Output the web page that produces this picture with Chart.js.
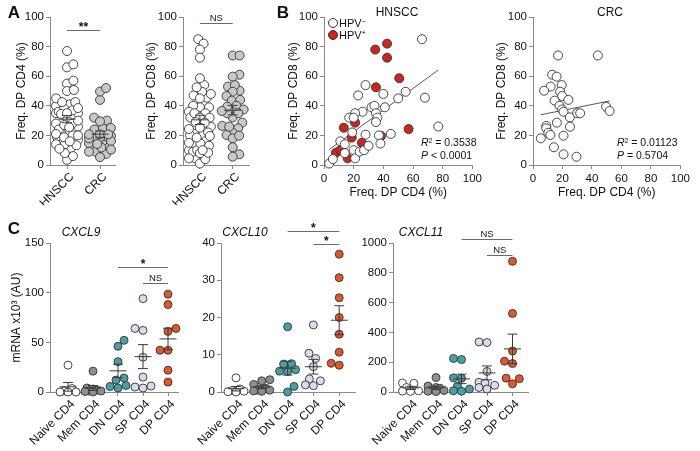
<!DOCTYPE html>
<html>
<head>
<meta charset="utf-8">
<script src="https://cdn.jsdelivr.net/npm/chart.js@4"></script>
<style>
body { margin: 0; background: #fff; }
#page { position: relative; width: 700px; height: 451px; overflow: hidden; font-family: 'Liberation Sans', Arial, sans-serif; color: #111; }
canvas { position: absolute; }
.t { position: absolute; white-space: nowrap; line-height: 1; transform: translate(-50%, -50%); }
.l { position: absolute; white-space: nowrap; line-height: 1; transform: translate(0, -50%); }
.dot { position: absolute; width: 8px; height: 8px; border: 1px solid #333; border-radius: 50%; }
sup { font-size: 65%; vertical-align: 0.45em; line-height: 0; }
</style>
</head>
<body>
<div id="page">
  <canvas id="aCD4"></canvas>
  <canvas id="aCD8"></canvas>
  <canvas id="bHnscc"></canvas>
  <canvas id="bCrc"></canvas>
  <canvas id="c9"></canvas>
  <canvas id="c10"></canvas>
  <canvas id="c11"></canvas>

  <div class="t" style="left:14px;top:12px;font-weight:bold;font-size:17px">A</div>
  <div class="t" style="left:283px;top:12px;font-weight:bold;font-size:17px">B</div>
  <div class="t" style="left:14px;top:228px;font-weight:bold;font-size:17px">C</div>

  <div class="t" style="left:397px;top:12px;font-size:12px">HNSCC</div>
  <div class="t" style="left:610px;top:12px;font-size:12px">CRC</div>
  <div class="t" style="left:81px;top:232px;font-size:12px;font-style:italic">CXCL9</div>
  <div class="t" style="left:245px;top:232px;font-size:12px;font-style:italic">CXCL10</div>
  <div class="t" style="left:421px;top:232px;font-size:12px;font-style:italic">CXCL11</div>

  <div class="dot" style="left:328px;top:18px;background:#fff"></div>
  <div class="l" style="left:339px;top:23px;font-size:11px">HPV<sup>–</sup></div>
  <div class="dot" style="left:328px;top:30px;background:#c9261c"></div>
  <div class="l" style="left:339px;top:35px;font-size:11px">HPV<sup>+</sup></div>

  <div class="l" id="hR" style="left:421px;top:142px;font-size:10.5px"></div>
  <div class="l" id="hP" style="left:421px;top:155px;font-size:10.5px"></div>
  <div class="l" id="cR" style="left:617px;top:142px;font-size:10.5px"></div>
  <div class="l" id="cP" style="left:617px;top:155px;font-size:10.5px"></div>
</div>

<script>
// categories
const cohorts = ['HNSCC', 'CRC'];
const subsets = ['Naive CD4', 'Mem CD4', 'DN CD4', 'SP CD4', 'DP CD4'];

// HNSCC patients, freq. DP CD4 / DP CD8 (%)
const hpvNegCD4 = [66, 68, 77, 28, 23, 40, 55, 50, 41, 32, 34, 26, 21, 17, 20, 35, 36, 35, 28, 45, 37, 19, 11, 14, 20, 21, 24, 27, 30, 38, 3.5, 6, 14];
const hpvNegCD8 = [85, 45.5, 26, 54, 47, 48, 49.5, 45, 39, 39, 40, 36, 35, 32, 32, 35, 32, 29, 20.5, 21, 20, 22, 16, 14, 10, 4.5, 9, 10, 13, 14.5, 1, 4, 8];
const hpvPosCD4 = [42.5, 34.5, 42.5, 50.7, 35, 57, 21, 13.3, 18.7, 38.5, 25.5, 8, 11, 16];
const hpvPosCD8 = [82, 78, 72.5, 58.6, 52.5, 24.3, 28.6, 25.2, 18.5, 19.6, 15, 8.3, 10, 4.5];

// CRC patients
const crcCD4 = [17, 44, 13, 16, 12, 7.5, 19.5, 18.4, 19.8, 14.7, 24, 18, 19.7, 20.7, 25, 30, 32, 49.6, 52, 16.2, 9, 9, 10.4, 11.8, 25.1, 5.3, 20.7, 14.2, 20.7, 29.5];
const crcCD8 = [74, 74, 61, 59.7, 53, 50.2, 54, 49.5, 46.6, 43.5, 44, 40, 37.5, 36, 32.2, 35, 35, 39.4, 36.5, 28.6, 26.4, 24.8, 21.8, 20.3, 25.9, 18, 19.8, 12, 7.2, 5.6];

// correlation stats as printed
const hnsccStats = ['0.3538', '< 0.0001'];
const crcStats = ['0.01123', '= 0.5704'];

// mRNA x10^3 (AU) per subset
const cxcl9 = [
  [27, 3.5, 1, 0, 0, 0],
  [21, 4, 3, 2, 1, 1, 0.5, 0],
  [52, 46, 30.5, 14, 12, 6.5, 5.5, 4],
  [94, 64, 62, 35, 15, 6, 5, 4],
  [98.5, 88, 64, 61, 42, 42, 22, 10]
];
const cxcl10 = [
  [3.8, 0.8, 0.4, 0.2, 0.1, 0],
  [3.3, 3, 2, 1, 0.5, 0.5, 0.3, 0.2],
  [17.5, 7.6, 7.5, 6, 5.6, 5.5, 1.5, 0],
  [18, 10.4, 9, 6.8, 3.5, 3, 1.9, 1.7],
  [37, 30.7, 25.3, 20, 15.5, 10.7, 7.2, 7.7]
];
const cxcl11 = [
  [60, 58, 30, 8, 6, 4],
  [97, 40, 30, 25, 15, 10, 5, 3],
  [225, 218, 95, 92, 40, 20, 8, 5],
  [336, 332, 138, 65, 60, 45, 30, 20],
  [877, 527, 275, 207, 191, 93, 89, 55]
];

// tick values
const pctTicks = [0, 20, 40, 60, 80, 100];
const cxcl9Ticks = [0, 50, 100, 150];
const cxcl10Ticks = [0, 10, 20, 30, 40];
const cxcl11Ticks = [0, 200, 400, 600, 800, 1000];

const cohortFills = ['#ffffff', '#c8c8c8'];
const subsetFills = ['#ffffff', '#8e8e8e', '#4b9ea3', '#d9dde9', '#e0572b'];
const hpvFills = ['#ffffff', '#c9261c'];
const axisGray = '#8a8a8a';

Chart.defaults.font.family = "'Liberation Sans', Arial, sans-serif";
Chart.defaults.color = '#111';

document.getElementById('hR').innerHTML = '<i>R</i><sup>2</sup> = ' + hnsccStats[0];
document.getElementById('hP').innerHTML = '<i>P</i> ' + hnsccStats[1];
document.getElementById('cR').innerHTML = '<i>R</i><sup>2</sup> = ' + crcStats[0];
document.getElementById('cP').innerHTML = '<i>P</i> ' + crcStats[1];

function place(id, rect, area) {
  const c = document.getElementById(id);
  c.width = rect.w; c.height = rect.h;
  c.style.left = rect.x + 'px'; c.style.top = rect.y + 'px';
  return {
    canvas: c,
    padding: { left: 0, top: area.top - rect.y, right: rect.x + rect.w - area.right, bottom: 0 },
    yWidth: area.left - rect.x,
    xHeight: rect.y + rect.h - area.bottom
  };
}

function fixedTicks(values) {
  return scale => { scale.ticks = values.map(v => ({ value: v })); };
}

function axisStyle(extra) {
  return Object.assign({
    grid: { display: true, drawOnChartArea: false, drawTicks: true, tickLength: 4, color: axisGray },
    border: { display: true, color: axisGray, width: 1 }
  }, extra);
}

function meanSem(v) {
  const n = v.length;
  const m = v.reduce((a, b) => a + b, 0) / n;
  const sd = Math.sqrt(v.reduce((a, b) => a + (b - m) ** 2, 0) / (n - 1));
  return { mean: m, sem: sd / Math.sqrt(n) };
}

// beeswarm with a width cap, offsets in px; overlaps allowed once the column is full
function swarm(vals, pxY, d, maxW) {
  const idx = vals.map((v, i) => i).sort((a, b) => vals[a] - vals[b]);
  const placed = [], off = [];
  idx.forEach(i => {
    const y = vals[i] * pxY;
    const near = placed.filter(p => Math.abs(p.y - y) < d);
    let cands = [0];
    near.forEach(p => {
      const dx = Math.sqrt(d * d - (p.y - y) ** 2);
      cands.push(p.x + dx, p.x - dx);
    });
    cands = cands.filter(c => Math.abs(c) <= maxW + 0.01);
    cands.sort((a, b) => Math.abs(a) - Math.abs(b) || b - a);
    let x = cands.find(c => near.every(p => (c - p.x) ** 2 + (y - p.y) ** 2 >= d * d - 0.01));
    if (x === undefined) {
      let best = -1;
      for (let c = -maxW; c <= maxW + 0.01; c += maxW / 4) {
        const m = Math.min(...near.map(p => (c - p.x) ** 2 + (y - p.y) ** 2));
        if (m > best) { best = m; x = c; }
      }
    }
    placed.push({ x, y });
    off[i] = x;
  });
  return off;
}

function markers(bars, sig) {
  return {
    id: 'markers',
    afterDatasetsDraw(chart) {
      const { ctx } = chart;
      const x = chart.scales.x, y = chart.scales.y;
      ctx.save();
      ctx.lineWidth = 1;
      ctx.strokeStyle = '#3a3a3a';
      bars.forEach(b => {
        const cx = x.getPixelForValue(b.i);
        const ym = y.getPixelForValue(b.mean);
        const yt = y.getPixelForValue(b.mean + b.sem);
        const yb = y.getPixelForValue(b.mean - b.sem);
        ctx.beginPath();
        ctx.moveTo(cx - 8.5, ym); ctx.lineTo(cx + 8.5, ym);
        ctx.moveTo(cx, yt); ctx.lineTo(cx, yb);
        ctx.moveTo(cx - 5, yt); ctx.lineTo(cx + 5, yt);
        ctx.moveTo(cx - 5, yb); ctx.lineTo(cx + 5, yb);
        ctx.stroke();
      });
      ctx.strokeStyle = '#6a6a6a';
      ctx.fillStyle = '#111';
      ctx.textAlign = 'center';
      ctx.textBaseline = 'alphabetic';
      sig.forEach(s => {
        const x0 = x.getPixelForValue(s.from), x1 = x.getPixelForValue(s.to);
        const yy = Math.round(y.getPixelForValue(s.y)) + 0.5;
        ctx.beginPath(); ctx.moveTo(x0, yy); ctx.lineTo(x1, yy); ctx.stroke();
        const ns = s.label === 'NS';
        ctx.font = (ns ? '9.5px ' : 'bold 12px ') + Chart.defaults.font.family;
        ctx.fillText(s.label, (x0 + x1) / 2, yy - (ns ? 3 : 0));
      });
      ctx.restore();
    }
  };
}

function dotPlot(id, rect, area, cats, groups, fills, yTicks, yTitle, sig, opt) {
  const L = place(id, rect, area);
  const yMin = yTicks[0], yMax = yTicks[yTicks.length - 1];
  const pxY = (area.bottom - area.top) / (yMax - yMin);
  const datasets = groups.map((vals, g) => {
    const off = swarm(vals, pxY, opt.gap, opt.maxW);
    return {
      data: vals.map((v, k) => ({ x: g + off[k] / area.step, y: v })),
      backgroundColor: fills[g], borderColor: '#333', borderWidth: 0.9,
      pointRadius: opt.r, pointHoverRadius: opt.r, clip: false
    };
  });
  const bars = groups.map((v, g) => Object.assign({ i: g }, meanSem(v)));
  new Chart(L.canvas, {
    type: 'scatter',
    data: { datasets },
    plugins: [markers(bars, sig)],
    options: {
      responsive: false, animation: false, events: [],
      layout: { padding: L.padding },
      plugins: { legend: { display: false }, tooltip: { enabled: false } },
      scales: {
        x: axisStyle({
          type: 'linear',
          min: (area.left - area.cat0) / area.step,
          max: (area.right - area.cat0) / area.step,
          afterBuildTicks: fixedTicks(cats.map((c, i) => i)),
          afterFit: s => { s.height = L.xHeight; },
          ticks: { autoSkip: false, minRotation: 45, maxRotation: 45, padding: 1, labelOffset: 5,
                   font: { size: opt.xFont }, callback: v => cats[v] }
        }),
        y: axisStyle({
          min: yMin, max: yMax,
          afterBuildTicks: fixedTicks(yTicks),
          afterFit: s => { s.width = L.yWidth; },
          ticks: { padding: 2, font: { size: 11.5 }, callback: v => String(v) },
          title: { display: !!yTitle, text: yTitle || '', font: { size: 12 }, padding: { top: opt.titlePad || 0, bottom: 0 } }
        })
      }
    }
  });
}

function regression(xs, ys) {
  const n = xs.length;
  const mx = xs.reduce((a, b) => a + b, 0) / n, my = ys.reduce((a, b) => a + b, 0) / n;
  let sxy = 0, sxx = 0;
  xs.forEach((x, i) => { sxy += (x - mx) * (ys[i] - my); sxx += (x - mx) ** 2; });
  const b = sxy / sxx, a = my - b * mx;
  const x0 = Math.min(...xs), x1 = Math.max(...xs);
  return [{ x: x0, y: a + b * x0 }, { x: x1, y: a + b * x1 }];
}

function scatterPlot(id, rect, area, series, titlePad) {
  const L = place(id, rect, area);
  const allX = [].concat(...series.map(s => s.x));
  const allY = [].concat(...series.map(s => s.y));
  const datasets = series.map(s => ({
    data: s.x.map((v, k) => ({ x: v, y: s.y[k] })),
    backgroundColor: s.fill, borderColor: '#333', borderWidth: 0.9,
    pointRadius: 4.5, pointHoverRadius: 4.5, clip: false, order: 0
  }));
  datasets.push({
    type: 'line', data: regression(allX, allY), borderColor: '#555', borderWidth: 1,
    pointRadius: 0, fill: false, order: 1
  });
  new Chart(L.canvas, {
    type: 'scatter',
    data: { datasets },
    options: {
      responsive: false, animation: false, events: [],
      layout: { padding: L.padding },
      plugins: { legend: { display: false }, tooltip: { enabled: false } },
      scales: {
        x: axisStyle({
          type: 'linear', min: 0, max: 100,
          afterBuildTicks: fixedTicks(pctTicks),
          afterFit: s => { s.height = L.xHeight; },
          ticks: { minRotation: 0, maxRotation: 0, padding: 3, font: { size: 11.5 } },
          title: { display: true, text: 'Freq. DP CD4 (%)', font: { size: 12 }, padding: { top: 0, bottom: 0 } }
        }),
        y: axisStyle({
          min: 0, max: 100,
          afterBuildTicks: fixedTicks(pctTicks),
          afterFit: s => { s.width = L.yWidth; },
          ticks: { padding: 2, font: { size: 11.5 } },
          title: { display: true, text: 'Freq. DP CD8 (%)', font: { size: 12 }, padding: { top: titlePad, bottom: 0 } }
        })
      }
    }
  });
}

const hnsccCD4 = hpvNegCD4.concat(hpvPosCD4);
const hnsccCD8 = hpvNegCD8.concat(hpvPosCD8);

// panel A
dotPlot('aCD4', { x: 0, y: 0, w: 125, h: 205 },
  { left: 50, right: 115, top: 17, bottom: 165, cat0: 67, step: 33 },
  cohorts, [hnsccCD4, crcCD4], cohortFills, pctTicks, 'Freq. DP CD4 (%)',
  [{ from: 0, to: 1, y: 91, label: '**' }], { r: 4.5, gap: 7, maxW: 11, xFont: 12, titlePad: 14 });
dotPlot('aCD8', { x: 130, y: 0, w: 125, h: 205 },
  { left: 183, right: 250, top: 17, bottom: 165, cat0: 200, step: 33 },
  cohorts, [hnsccCD8, crcCD8], cohortFills, pctTicks, 'Freq. DP CD8 (%)',
  [{ from: 0, to: 1, y: 96, label: 'NS' }], { r: 4.5, gap: 7, maxW: 11, xFont: 12, titlePad: 14.8 });

// panel B
scatterPlot('bHnscc', { x: 285, y: 0, w: 200, h: 200 },
  { left: 324, right: 474, top: 17, bottom: 165 },
  [{ x: hpvNegCD4, y: hpvNegCD8, fill: hpvFills[0] }, { x: hpvPosCD4, y: hpvPosCD8, fill: hpvFills[1] }], 1.8);
scatterPlot('bCrc', { x: 493, y: 0, w: 200, h: 200 },
  { left: 533, right: 683, top: 17, bottom: 165 },
  [{ x: crcCD4, y: crcCD8, fill: '#ffffff' }], 1.8);

// panel C
const cOpt = { r: 4, gap: 8.5, maxW: 8, xFont: 12 };
dotPlot('c9', { x: 0, y: 213, w: 185, h: 238 },
  { left: 50, right: 178, top: 243, bottom: 392, cat0: 68, step: 25 },
  subsets, cxcl9, subsetFills, cxcl9Ticks, 'mRNA x10³ (AU)',
  [{ from: 2, to: 4, y: 126, label: '*' }, { from: 3, to: 4, y: 110, label: 'NS' }],
  Object.assign({ titlePad: 9.8 }, cOpt));
dotPlot('c10', { x: 190, y: 213, w: 172, h: 238 },
  { left: 221, right: 355, top: 243, bottom: 392, cat0: 236, step: 25.8 },
  subsets, cxcl10, subsetFills, cxcl10Ticks, null,
  [{ from: 2, to: 4, y: 43.2, label: '*' }, { from: 3, to: 4, y: 39.7, label: '*' }], cOpt);
dotPlot('c11', { x: 362, y: 213, w: 175, h: 238 },
  { left: 393, right: 528, top: 243, bottom: 392, cat0: 410.5, step: 25.5 },
  subsets, cxcl11, subsetFills, cxcl11Ticks, null,
  [{ from: 2, to: 4, y: 1027, label: 'NS' }, { from: 3, to: 4, y: 919, label: 'NS' }], cOpt);
</script>
</body>
</html>
